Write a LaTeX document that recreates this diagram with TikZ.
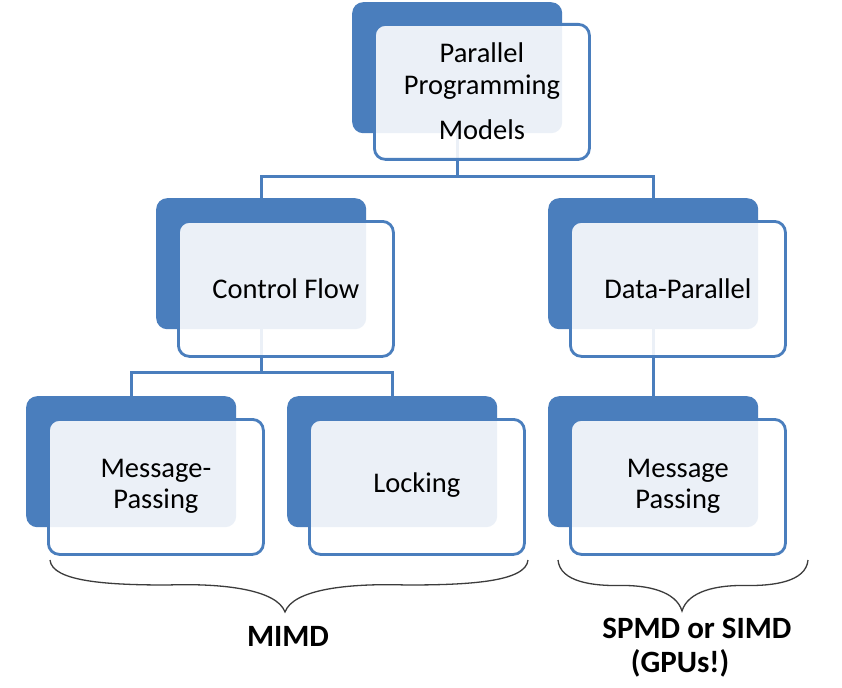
\documentclass[tikz,border=0pt]{standalone}
\usepackage{fontspec}
\setmainfont{Carlito}
\usetikzlibrary{calc}
\begin{document}
\begin{tikzpicture}[x=1pt,y=-1pt,
  shadowbox/.style={draw=none, fill=boxblue, rounded corners=11pt, minimum width=210pt, minimum height=131pt, inner sep=0pt, anchor=north west},
  frontbox/.style={draw=boxblue, line width=2.8pt, fill=white, fill opacity=0.89, text opacity=1, rounded corners=11pt, minimum width=215pt, minimum height=135pt, inner sep=0pt, anchor=north west},
  conn/.style={draw=boxblue, line width=2.8pt},
  bracestyle/.style={draw=bracegray, line width=1.3pt},
  txt/.style={align=center, font=\fontsize{28.5}{32}\selectfont, inner sep=0pt},
  lbl/.style={font=\fontsize{31}{36}\selectfont\bfseries, inner sep=0pt}]
\definecolor{boxblue}{RGB}{74,126,189}
\definecolor{bracegray}{RGB}{60,60,60}
\useasboundingbox[fill=white] (0,0) rectangle (842,687);
% shadows
\node[shadowbox] (ps) at (352,2) {};
\node[shadowbox] (cfs) at (156,198) {};
\node[shadowbox] (dps) at (548,198) {};
\node[shadowbox] (mps) at (26,396) {};
\node[shadowbox] (lks) at (287,396) {};
\node[shadowbox] (mp2s) at (548,396) {};
% connectors
\draw[conn] (ps.south) -- ++(0,43) -| (cfs.north);
\draw[conn] (ps.south) -- ++(0,43) -| (dps.north);
\draw[conn] (cfs.south) -- ++(0,43) -| (mps.north);
\draw[conn] (cfs.south) -- ++(0,43) -| (lks.north);
\draw[conn] (dps.south) -- (mp2s.north);
% front boxes
\node[frontbox] (p) at (373,23) {};
\node[frontbox] (cf) at (177,220) {};
\node[frontbox] (dp) at (569,220) {};
\node[frontbox] (mp) at (47,418) {};
\node[frontbox] (lk) at (308,418) {};
\node[frontbox] (mp2) at (569,418) {};
% texts
\node[txt] (pt) at ($(p.center)+(0,-1)$) {Parallel\\Programming\\[13pt]Models};
\node[txt] (cft) at (cf.center) {Control Flow};
\node[txt] (dpt) at (dp.center) {Data-Parallel};
\node[txt, font=\fontsize{28.5}{31}\selectfont] (mpt) at ($(mp.center)+(0,-1)$) {Message-\\Passing};
\node[txt] (lkt) at ($(lk.center)+(0,-2)$) {Locking};
\node[txt, font=\fontsize{28.5}{31}\selectfont] (mp2t) at ($(mp2.center)+(0,-1)$) {Message\\Passing};
% braces
\coordinate (b1a) at (50,560);
\coordinate (b1t) at (285,612);
\coordinate (b1b) at (528,560);
\draw[bracestyle] (b1a) .. controls ($(b1a)+(2,22)$) and ($(b1a)+(60,25)$) .. ($(b1a)!0.5!(b1t)+(0,-1)$)
  .. controls ($(b1t)+(-60,-29)$) and ($(b1t)+(-8,-22)$) .. (b1t)
  .. controls ($(b1t)+(8,-22)$) and ($(b1t)+(60,-29)$) .. ($(b1t)!0.5!(b1b)+(0,-1)$)
  .. controls ($(b1b)+(-60,25)$) and ($(b1b)+(-2,22)$) .. (b1b);
\coordinate (b2a) at (558,560);
\coordinate (b2t) at (682,611);
\coordinate (b2b) at (808,560);
\draw[bracestyle] (b2a) .. controls ($(b2a)+(2,22)$) and ($(b2a)+(35,26)$) .. ($(b2a)!0.5!(b2t)+(0,0)$)
  .. controls ($(b2t)+(-35,-26)$) and ($(b2t)+(-6,-20)$) .. (b2t)
  .. controls ($(b2t)+(6,-20)$) and ($(b2t)+(35,-26)$) .. ($(b2t)!0.5!(b2b)+(0,0)$)
  .. controls ($(b2b)+(-35,26)$) and ($(b2b)+(-2,22)$) .. (b2b);
% labels
\node[lbl] (mimd) at (288,636) {MIMD};
\node[lbl] (spmd) at (697,628) {SPMD or SIMD};
\node[lbl] (gpus) at (680,663) {(GPUs!)};
\end{tikzpicture}
\end{document}
